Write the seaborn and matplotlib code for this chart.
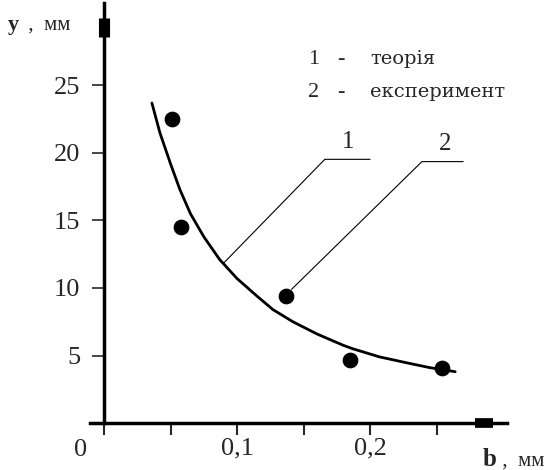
import matplotlib
matplotlib.use("Agg")
import matplotlib.pyplot as plt
import seaborn as sns
import pandas as pd

# theory curve (1) and experiment points (2), b in mm, y in mm
theory_b = [0.036, 0.042, 0.050, 0.057, 0.065, 0.075, 0.087, 0.100, 0.115, 0.127,
            0.142, 0.160, 0.180, 0.187, 0.207, 0.228, 0.245, 0.264]
theory_y = [23.7, 21.5, 19.2, 17.3, 15.5, 13.8, 12.1, 10.7, 9.4, 8.4,
            7.5, 6.6, 5.75, 5.5, 4.9, 4.45, 4.1, 3.8]
exp_b = [0.051, 0.058, 0.137, 0.185, 0.254]
exp_y = [22.5, 14.5, 9.4, 4.7, 4.05]

y_ticks = [5, 10, 15, 20, 25]
x_ticks = [0, 0.05, 0.1, 0.15, 0.2, 0.25]
x_tick_labels = ["", "", "0,1", "", "0,2", ""]

theory = pd.DataFrame({"b": theory_b, "y": theory_y})
experiment = pd.DataFrame({"b": exp_b, "y": exp_y})

sns.set_style("white")
plt.rcParams["font.family"] = ["Liberation Serif", "DejaVu Serif"]

fig = plt.figure(figsize=(5.56, 4.70), dpi=100)
ax = fig.add_axes([0, 0, 1, 1])

sns.lineplot(data=theory, x="b", y="y", ax=ax, color="black", linewidth=2.0, sort=False)
sns.scatterplot(data=experiment, x="b", y="y", ax=ax, color="black", s=110, edgecolor="black", zorder=5)

ax.set_xlim(-0.0782, 0.3398)
ax.set_ylim(-3.48, 31.33)
ax.set_xlabel("")
ax.set_ylabel("")

# axes through the origin, with arrow blocks at the ends
for side in ["top", "right"]:
    ax.spines[side].set_visible(False)
ax.spines["left"].set_position(("data", 0))
ax.spines["bottom"].set_position(("data", 0))
ax.spines["left"].set_bounds(0, 31.1)
ax.spines["bottom"].set_bounds(-0.0105, 0.303)
for side in ["left", "bottom"]:
    ax.spines[side].set_linewidth(2.5)
    ax.spines[side].set_color("black")
ax.plot([0, 0], [28.6, 30.0], color="black", lw=8, solid_capstyle="butt", zorder=6)
ax.plot([0.279, 0.2925], [0, 0], color="black", lw=7, solid_capstyle="butt", zorder=6)

ax.set_yticks(y_ticks)
ax.set_yticklabels([str(v) for v in y_ticks])
ax.set_xticks(x_ticks)
ax.set_xticklabels(x_tick_labels)
ax.tick_params(axis="y", direction="out", length=8.5, width=1.2, pad=8.5, labelsize=19, left=True)
ax.tick_params(axis="x", direction="out", length=8.5, width=1.5, pad=2, labelsize=19, bottom=True)
ax.text(-0.018, -2.0, "0", fontsize=19, ha="center", va="center")

# axis titles
ax.text(-0.0722, 29.5, "y", fontsize=16, fontweight="bold", ha="left", va="center")
ax.text(-0.061, 29.5, " ,  мм", fontsize=15, ha="left", va="center")
ax.text(0.285, -3.15, "b", fontsize=18, fontweight="bold", ha="left", va="baseline")
ax.text(0.2955, -3.15, " ,  мм", fontsize=15, ha="left", va="baseline")

# legend text
legend_font = ["DejaVu Serif"]
ax.text(0.1534, 26.96, "1", fontsize=16, ha="left", va="center")
ax.text(0.1755, 26.96, "-", fontsize=16, ha="left", va="center")
ax.text(0.2, 26.96, "теорія", fontsize=14, family=legend_font, ha="left", va="center")
ax.text(0.1534, 24.5, "2", fontsize=16, ha="left", va="center")
ax.text(0.1755, 24.5, "-", fontsize=16, ha="left", va="center")
ax.text(0.2, 24.5, "експеримент", fontsize=14, family=legend_font, ha="left", va="center")

# leader lines
ax.plot([0.0895, 0.166, 0.200], [11.8, 19.53, 19.53], color="black", lw=0.8)
ax.text(0.1837, 20.0, "1", fontsize=18, ha="center", va="bottom")
ax.plot([0.141, 0.239, 0.270], [9.9, 19.36, 19.36], color="black", lw=0.8)
ax.text(0.2564, 19.85, "2", fontsize=18, ha="center", va="bottom")

fig.savefig("out.png", dpi=100)
